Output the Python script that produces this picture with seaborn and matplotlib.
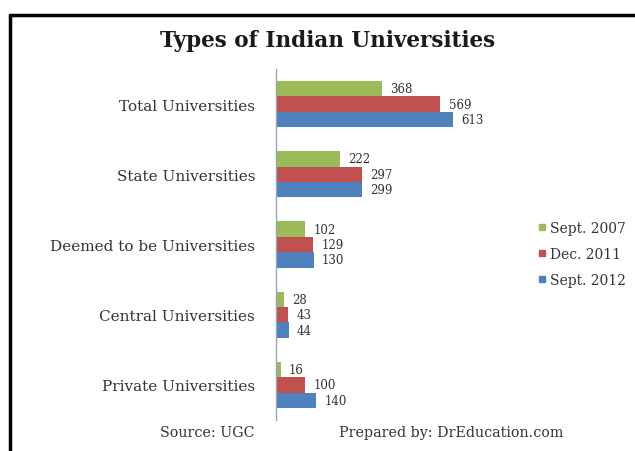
import matplotlib
matplotlib.use("Agg")
import matplotlib.pyplot as plt
import seaborn as sns
import pandas as pd
from matplotlib.lines import Line2D

categories = ["Total Universities", "State Universities", "Deemed to be Universities",
              "Central Universities", "Private Universities"]
series_names = ["Sept. 2007", "Dec. 2011", "Sept. 2012"]
sept_2007 = [368, 222, 102, 28, 16]
dec_2011 = [569, 297, 129, 43, 100]
sept_2012 = [613, 299, 130, 44, 140]
colors = ["#9BBB59", "#C0504D", "#4F81BD"]

rows = []
for name, vals in zip(series_names, [sept_2007, dec_2011, sept_2012]):
    for c, v in zip(categories, vals):
        rows.append({"Category": c, "Period": name, "Count": v})
df = pd.DataFrame(rows)

sns.set_style("white")
plt.rcParams["font.family"] = ["DejaVu Serif"]

W, H = 635, 452
fig = plt.figure(figsize=(W / 100, H / 100), dpi=100)
ax = fig.add_axes([276 / W, 1 - 421 / H, 344 / W, 351 / H])

sns.barplot(data=df, y="Category", x="Count", hue="Period", order=categories,
            hue_order=series_names, palette=colors, width=0.66, orient="h",
            saturation=1, linewidth=0, ax=ax, legend=False)

for cont in ax.containers:
    ax.bar_label(cont, padding=6, fontsize=8.5, color="#333333")

ax.set_xlim(0, 344 / 0.2887)
ax.set_ylim(4.5, -0.5)
ax.set_xlabel("")
ax.set_ylabel("")
ax.set_xticks([])
for s in ["top", "right", "bottom"]:
    ax.spines[s].set_visible(False)
ax.spines["left"].set_color("#8EA4C0")
ax.spines["left"].set_linewidth(1)
ax.tick_params(axis="y", length=0, pad=15, labelsize=11, labelcolor="#333333")

handles = [Line2D([0], [0], marker="s", linestyle="none", markersize=5,
                  markerfacecolor=c, markeredgecolor=c) for c in colors]
fig.legend(handles, series_names, loc="center left",
           bbox_to_anchor=(529 / W, 1 - 255 / H), frameon=False, fontsize=10,
           handletextpad=0.2, labelspacing=0.85, handlelength=0.8, borderpad=0,
           labelcolor="#333333")

fig.text(328 / W, 1 - 41 / H, "Types of Indian Universities", ha="center", va="center",
         fontsize=15.5, fontweight="bold", color="#1a1a1a")
fig.text(207 / W, 1 - 433 / H, "Source: UGC", ha="center", va="center",
         fontsize=10.3, color="#333333")
fig.text(451 / W, 1 - 433 / H, "Prepared by: DrEducation.com", ha="center", va="center",
         fontsize=10.3, color="#333333")

# frame border (top and left)
fig.add_artist(Line2D([10 / W, 1.0], [1 - 16 / H, 1 - 16 / H], color="black", lw=2.5,
                      transform=fig.transFigure))
fig.add_artist(Line2D([10 / W, 10 / W], [1 - 16 / H, 0.0], color="black", lw=2.5,
                      transform=fig.transFigure))

fig.savefig("out.png", dpi=100)
